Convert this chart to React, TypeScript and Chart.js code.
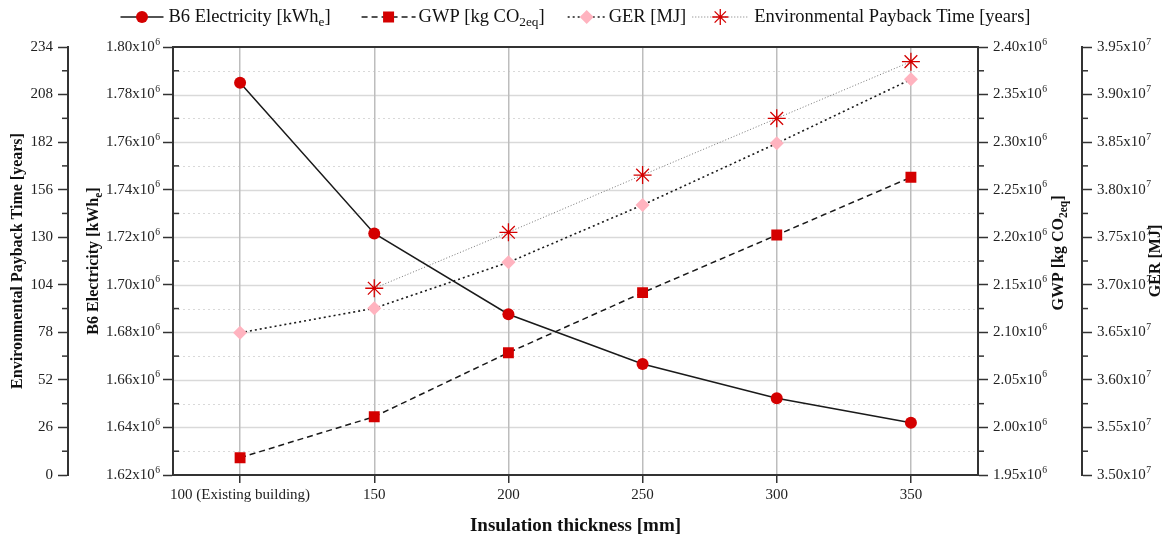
import { useEffect, useRef } from 'react';
import { Chart, registerables } from 'chart.js';

Chart.register(...registerables);

const FONT = '"Liberation Serif", "Times New Roman", serif';

// ---------- data ----------
const categories = ['100 (Existing building)', '150', '200', '250', '300', '350'];
const b6Electricity = [1785000, 1721600, 1687600, 1666700, 1652300, 1642000];
const gwpValues = [1968200, 2011300, 2078600, 2141700, 2202300, 2263000];
const gerValues = [36496000, 36753000, 37236000, 37839000, 38487000, 39160000];
const paybackYears = [null, 102.1, 132.7, 164.0, 195.0, 226.0];

// axis ranges: [min, max, major step]
const b6Range = [1620000, 1800000, 20000];
const gwpRange = [1950000, 2400000, 50000];
const gerRange = [35000000, 39500000, 500000];
const eptRange = [0, 234, 26];

type Part = { t: string; sub?: boolean };
const b6Label: Part[] = [{ t: 'B6 Electricity [kWh' }, { t: 'e', sub: true }, { t: ']' }];
const gwpLabel: Part[] = [{ t: 'GWP [kg CO' }, { t: '2eq', sub: true }, { t: ']' }];
const gerLabel: Part[] = [{ t: 'GER [MJ]' }];
const eptLabel: Part[] = [{ t: 'Environmental Payback Time [years]' }];
const xTitle = 'Insulation thickness [mm]';

// ---------- styles ----------
const RED = '#d40000';
const PINK = '#ffb3bf';
const LINE = '#1a1a1a';
const AXIS = '#333333';
const TICK_FONT = 15;

const seriesStyles = [
  { marker: 'circle', dash: [] as number[], color: LINE, width: 1.5, mcolor: RED, len: 43, textGap: 5, after: 31 },
  { marker: 'rect', dash: [6, 4], color: LINE, width: 1.5, mcolor: RED, len: 54, textGap: 3, after: 23 },
  { marker: 'diamond', dash: [2, 3], color: LINE, width: 1.6, mcolor: PINK, len: 38, textGap: 3, after: 6 },
  { marker: 'star', dash: [1, 2], color: '#777777', width: 1, mcolor: RED, len: 56, textGap: 6, after: 0 },
];

function setFont(ctx: CanvasRenderingContext2D, size: number, bold: boolean) {
  ctx.font = `${bold ? 'bold ' : ''}${size}px ${FONT}`;
}
function partsWidth(ctx: CanvasRenderingContext2D, parts: Part[], size: number, bold: boolean) {
  let w = 0;
  for (const p of parts) {
    setFont(ctx, p.sub ? size * 0.72 : size, bold);
    w += ctx.measureText(p.t).width;
  }
  return w;
}
function drawParts(ctx: CanvasRenderingContext2D, parts: Part[], x: number, y: number, size: number, bold: boolean) {
  let cx = x;
  ctx.textAlign = 'left';
  ctx.textBaseline = 'middle';
  for (const p of parts) {
    const s = p.sub ? size * 0.72 : size;
    setFont(ctx, s, bold);
    ctx.fillText(p.t, cx, y + (p.sub ? size * 0.3 : 0));
    cx += ctx.measureText(p.t).width;
  }
  return cx;
}
function drawRotatedTitle(ctx: CanvasRenderingContext2D, parts: Part[], x: number, y: number, size: number) {
  ctx.save();
  ctx.translate(x, y);
  ctx.rotate(-Math.PI / 2);
  ctx.fillStyle = '#111';
  const w = partsWidth(ctx, parts, size, true);
  drawParts(ctx, parts, -w / 2, 0, size, true);
  ctx.restore();
}
function drawTickLabel(ctx: CanvasRenderingContext2D, base: string, sup: string, x: number, y: number, alignRight: boolean) {
  setFont(ctx, TICK_FONT, false);
  const wb = ctx.measureText(base).width;
  setFont(ctx, TICK_FONT * 0.64, false);
  const ws = sup ? ctx.measureText(sup).width + 0.5 : 0;
  const x0 = alignRight ? x - wb - ws : x;
  ctx.textAlign = 'left';
  ctx.textBaseline = 'middle';
  setFont(ctx, TICK_FONT, false);
  ctx.fillText(base, x0, y);
  if (sup) {
    setFont(ctx, TICK_FONT * 0.64, false);
    ctx.fillText(sup, x0 + wb + 0.5, y - 5);
  }
}
function drawMarker(ctx: CanvasRenderingContext2D, kind: string, x: number, y: number, color: string) {
  ctx.save();
  ctx.fillStyle = color;
  ctx.strokeStyle = color;
  ctx.setLineDash([]);
  ctx.beginPath();
  if (kind === 'circle') {
    ctx.arc(x, y, 6, 0, Math.PI * 2);
    ctx.fill();
  } else if (kind === 'rect') {
    ctx.rect(x - 5.5, y - 5.5, 11, 11);
    ctx.fill();
  } else if (kind === 'diamond') {
    ctx.moveTo(x - 7, y);
    ctx.lineTo(x, y - 7);
    ctx.lineTo(x + 7, y);
    ctx.lineTo(x, y + 7);
    ctx.closePath();
    ctx.fill();
  } else {
    ctx.lineWidth = 1.3;
    for (let k = 0; k < 4; k++) {
      const a = (k * Math.PI) / 4;
      ctx.moveTo(x - 8 * Math.cos(a), y - 8 * Math.sin(a));
      ctx.lineTo(x + 8 * Math.cos(a), y + 8 * Math.sin(a));
    }
    ctx.stroke();
  }
  ctx.restore();
}

// [scale id, range, minor tick direction, label padding, exponent]
const yAxesInfo: [string, number[], number, number, number][] = [
  ['yEPT', eptRange, -1, 5, 0],
  ['yB6', b6Range, 1, 3, 6],
  ['yGWP', gwpRange, 1, 5, 6],
  ['yGER', gerRange, 1, 5, 7],
];
const SUP: Record<number, string> = { 6: '6', 7: '7' };

const decorPlugin = {
  id: 'decor',
  beforeDraw(chart: any) {
    const { ctx, chartArea: a } = chart;
    ctx.save();
    ctx.fillStyle = '#ffffff';
    ctx.fillRect(0, 0, chart.width, chart.height);
    ctx.beginPath();
    ctx.rect(a.left + 1, a.top + 1, a.right - a.left - 2, a.bottom - a.top - 2);
    ctx.clip();
    const s = chart.scales.yB6;
    const [mn, mx, st] = b6Range;
    const n = Math.round((mx - mn) / (st / 2));
    for (let k = 1; k < n; k++) {
      const y = Math.round(s.getPixelForValue(mn + (k * st) / 2)) + 0.5;
      ctx.beginPath();
      ctx.strokeStyle = '#d9d9d9';
      if (k % 2 === 0) {
        ctx.setLineDash([]);
        ctx.lineWidth = 1.5;
      } else {
        ctx.setLineDash([2, 3]);
        ctx.lineWidth = 1.2;
      }
      ctx.moveTo(a.left, y);
      ctx.lineTo(a.right, y);
      ctx.stroke();
    }
    ctx.restore();
  },
  beforeDatasetsDraw(chart: any) {
    const { ctx, chartArea: a } = chart;
    ctx.save();
    ctx.strokeStyle = AXIS;
    ctx.setLineDash([]);
    // top frame
    ctx.lineWidth = 2;
    ctx.beginPath();
    ctx.moveTo(a.left - 1, a.top);
    ctx.lineTo(a.right + 1, a.top);
    ctx.stroke();
    // minor ticks + labels
    ctx.lineWidth = 1.5;
    for (const [id, r, dir, pad, exp] of yAxesInfo) {
      const s = chart.scales[id];
      const left = s.position === 'left';
      const x0 = left ? s.right : s.left;
      ctx.strokeStyle = AXIS;
      for (let v = r[0] + r[2] / 2; v < r[1]; v += r[2]) {
        const y = s.getPixelForValue(v);
        ctx.beginPath();
        ctx.moveTo(x0, y);
        ctx.lineTo(x0 + dir * 6, y);
        ctx.stroke();
      }
      ctx.fillStyle = '#222';
      const n = Math.round((r[1] - r[0]) / r[2]);
      for (let k = 0; k <= n; k++) {
        const v = r[0] + k * r[2];
        const y = s.getPixelForValue(v);
        const base = exp ? (v / Math.pow(10, exp)).toFixed(2) + 'x10' : String(Math.round(v));
        const sup = exp ? SUP[exp] : '';
        const lx = left ? x0 - 10 - pad : x0 + 10 + pad;
        drawTickLabel(ctx, base, sup, lx, y, left);
      }
    }
    ctx.restore();
  },
  afterDraw(chart: any) {
    const { ctx, chartArea: a } = chart;
    ctx.save();
    // axis titles
    const sE = chart.scales.yEPT;
    const sB = chart.scales.yB6;
    const sG = chart.scales.yGWP;
    const sR = chart.scales.yGER;
    const cy = (a.top + a.bottom) / 2;
    drawRotatedTitle(ctx, eptLabel, sE.left + 18, cy, 16);
    drawRotatedTitle(ctx, b6Label, sB.left + 26, cy, 16);
    drawRotatedTitle(ctx, gwpLabel, sG.left + 81, cy - 8, 16);
    drawRotatedTitle(ctx, gerLabel, sR.left + 74, cy, 16);

    // legend
    const labels = [b6Label, gwpLabel, gerLabel, eptLabel];
    const size = 18.5;
    const widths = labels.map((l) => partsWidth(ctx, l, size, false));
    let total = 0;
    widths.forEach((w, i) => {
      const st = seriesStyles[i];
      total += st.len + st.textGap + w + st.after;
    });
    let x = (a.left + a.right) / 2 - total / 2;
    const y = 17;
    labels.forEach((l, i) => {
      const st = seriesStyles[i];
      ctx.save();
      ctx.strokeStyle = st.color;
      ctx.lineWidth = st.width;
      ctx.setLineDash(st.dash);
      ctx.beginPath();
      ctx.moveTo(x, y);
      ctx.lineTo(x + st.len, y);
      ctx.stroke();
      ctx.restore();
      drawMarker(ctx, st.marker, x + st.len / 2, y, st.mcolor);
      x += st.len + st.textGap;
      ctx.fillStyle = '#111';
      drawParts(ctx, l, x, y, size, false);
      x += widths[i] + st.after;
    });
    ctx.restore();
  },
};

function yScale(range: number[], position: string, weight: number, width: number) {
  return {
    type: 'linear',
    position,
    weight,
    min: range[0],
    max: range[1],
    afterFit: (s: any) => {
      s.width = width;
    },
    ticks: {
      stepSize: range[2],
      display: false,
    },
    grid: {
      drawOnChartArea: false,
      drawTicks: true,
      tickLength: 10,
      tickWidth: 1.5,
      tickColor: AXIS,
    },
    border: { display: true, color: AXIS, width: 2 },
    title: { display: false },
  };
}

export default function App() {
  const ref = useRef<HTMLCanvasElement | null>(null);
  useEffect(() => {
    if (!ref.current) return;
    const chart = new Chart(ref.current, {
      type: 'line',
      data: {
        labels: categories,
        datasets: [
          {
            label: 'B6 Electricity',
            data: b6Electricity,
            yAxisID: 'yB6',
            borderColor: seriesStyles[0].color,
            borderWidth: seriesStyles[0].width,
            borderDash: seriesStyles[0].dash,
            pointStyle: 'circle',
            pointRadius: 6,
            pointBackgroundColor: RED,
            pointBorderColor: RED,
            pointBorderWidth: 0,
            tension: 0,
          },
          {
            label: 'GWP',
            data: gwpValues,
            yAxisID: 'yGWP',
            borderColor: seriesStyles[1].color,
            borderWidth: seriesStyles[1].width,
            borderDash: seriesStyles[1].dash,
            pointStyle: 'rect',
            pointRadius: 7.7,
            pointBackgroundColor: RED,
            pointBorderColor: RED,
            pointBorderWidth: 0,
            tension: 0,
          },
          {
            label: 'GER',
            data: gerValues,
            yAxisID: 'yGER',
            borderColor: seriesStyles[2].color,
            borderWidth: seriesStyles[2].width,
            borderDash: seriesStyles[2].dash,
            pointStyle: 'rectRot',
            pointRadius: 7,
            pointBackgroundColor: PINK,
            pointBorderColor: PINK,
            pointBorderWidth: 0,
            tension: 0,
          },
          {
            label: 'Environmental Payback Time',
            data: paybackYears,
            yAxisID: 'yEPT',
            borderColor: seriesStyles[3].color,
            borderWidth: seriesStyles[3].width,
            borderDash: seriesStyles[3].dash,
            pointStyle: 'star',
            pointRadius: 9,
            pointBackgroundColor: RED,
            pointBorderColor: RED,
            pointBorderWidth: 1.3,
            tension: 0,
          },
        ],
      },
      options: {
        responsive: false,
        animation: false,
        layout: { padding: { top: 47, left: 0, right: 0, bottom: 0 } },
        plugins: {
          legend: { display: false },
          tooltip: { enabled: false },
        },
        scales: {
          x: {
            type: 'category',
            offset: true,
            afterFit: (s: any) => {
              s.height = 61;
            },
            grid: {
              offset: false,
              color: '#bdbdbd',
              lineWidth: 1.5,
              drawTicks: true,
              tickLength: 8,
              tickColor: AXIS,
              tickWidth: 1.5,
            },
            border: { display: true, color: AXIS, width: 2 },
            ticks: {
              color: '#222',
              font: { family: FONT, size: 15 },
              padding: 3,
              maxRotation: 0,
              autoSkip: false,
            },
            title: {
              display: true,
              text: xTitle,
              color: '#111',
              font: { family: FONT, size: 19, weight: 'bold', lineHeight: 1 },
              padding: { top: 0, bottom: 0 },
            },
          },
          yEPT: yScale(eptRange, 'left', 1, 68),
          yB6: yScale(b6Range, 'left', 0, 105),
          yGWP: yScale(gwpRange, 'right', 0, 104),
          yGER: yScale(gerRange, 'right', 1, 82),
        } as any,
      },
      plugins: [decorPlugin],
    } as any);
    return () => chart.destroy();
  }, []);
  return (
    <div style={{ position: 'fixed', left: 0, top: 0, width: 1164, height: 536, background: '#fff' }}>
      <canvas ref={ref} width={1164} height={536} style={{ display: 'block' }} />
    </div>
  );
}
